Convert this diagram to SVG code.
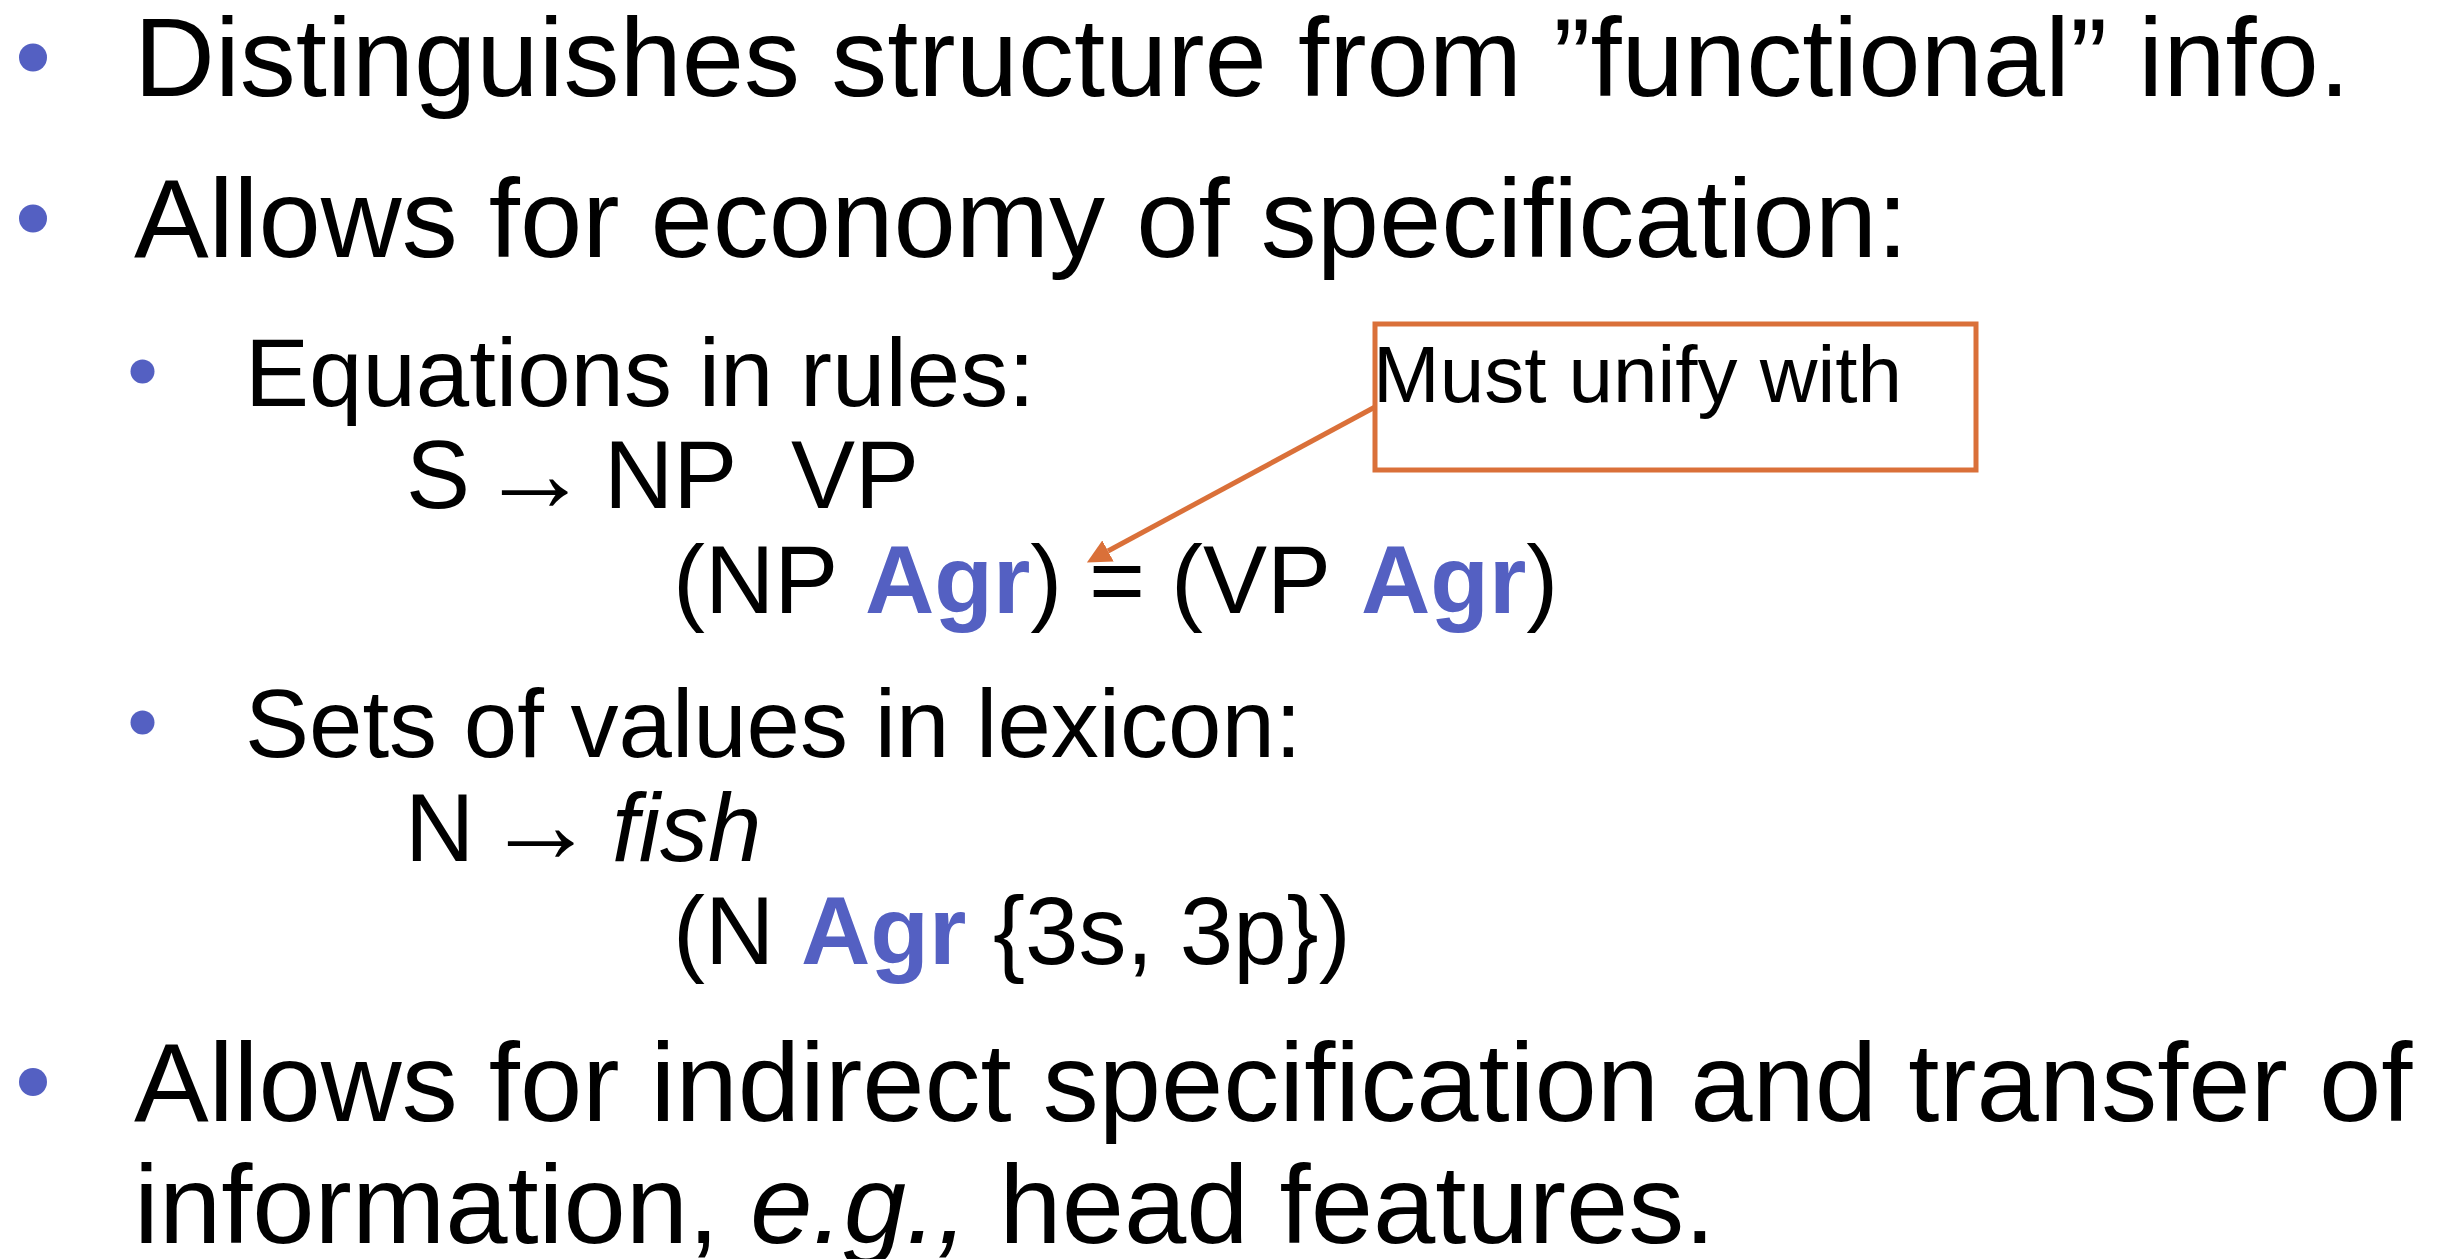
<svg xmlns="http://www.w3.org/2000/svg" width="2446" height="1259" viewBox="0 0 2446 1259">
<style>
text{font-family:"Liberation Sans",Arial,sans-serif;fill:#000}
.l1{font-size:112px}
.l2{font-size:96px}
.agr{font-weight:bold;fill:#5460C2}
.it{font-style:italic}
.arw{font-size:111px}
.bul{fill:#5460C2}
.note{font-size:80px}
</style>
<defs>
<marker id="ah" viewBox="0 0 10 10" refX="0" refY="5" markerWidth="24" markerHeight="24" markerUnits="userSpaceOnUse" orient="auto">
<path d="M0,0 L10,5 L0,10 z" fill="#DA7039"/>
</marker>
</defs>
<rect width="2446" height="1259" fill="#fff"/>
<g id="bullet1">
<circle class="bul" cx="33" cy="57.5" r="14"/>
<text class="l1" x="134" y="96">Distinguishes structure from ”functional” info.</text>
</g>
<g id="bullet2">
<circle class="bul" cx="33" cy="218.5" r="14"/>
<text class="l1" x="134" y="257">Allows for economy of specification:</text>
</g>
<g id="sub1">
<circle class="bul" cx="142.5" cy="371.5" r="12"/>
<text class="l2" x="245" y="406">Equations in rules:</text>
<text class="l2" x="406" y="508">S</text>
<text class="arw" x="479" y="511">→</text>
<text class="l2" x="604" y="508">NP</text>
<text class="l2" x="791" y="508">VP</text>
<text class="l2" x="673" y="613">(NP <tspan class="agr" x="865">Agr</tspan>) = </text>
<text class="l2" x="1171" y="613">(VP <tspan class="agr" x="1361">Agr</tspan>)</text>
</g>
<g id="sub2">
<circle class="bul" cx="142.5" cy="722.5" r="12"/>
<text class="l2" x="245" y="757">Sets of values in lexicon:</text>
<text class="l2" x="405" y="861">N</text>
<text class="arw" x="485" y="862">→</text>
<text class="l2 it" x="612" y="861">fish</text>
<text class="l2" x="673" y="964">(N <tspan class="agr" x="801">Agr</tspan> {3s, 3p})</text>
</g>
<g id="bullet3">
<circle class="bul" cx="33" cy="1082" r="14"/>
<text class="l1" x="134" y="1121">Allows for indirect specification and transfer of</text>
<text class="l1" x="134" y="1243">information, <tspan class="it">e.g.,</tspan> head features.</text>
</g>
<g id="callout">
<rect x="1375" y="324" width="601" height="146" fill="none" stroke="#DA7039" stroke-width="5"/>
<text class="note" x="1373" y="402">Must unify with</text>
</g>
<g id="connectors">
<line x1="1375" y1="407" x2="1108" y2="551" stroke="#DA7039" stroke-width="5" marker-end="url(#ah)"/>
</g>
</svg>
